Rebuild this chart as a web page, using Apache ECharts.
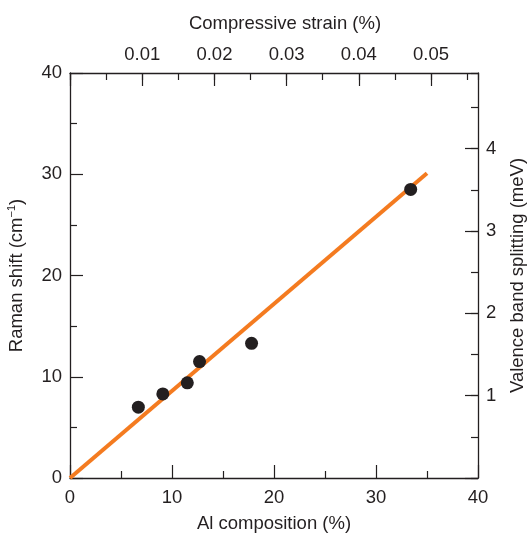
<!DOCTYPE html>
<html><head><meta charset="utf-8">
<script src="https://cdn.jsdelivr.net/npm/echarts@6/dist/echarts.min.js"></script>
<style>html,body{margin:0;padding:0;background:#fff}#c{width:528px;height:535px}</style>
</head><body><div id="c"></div>
<script>
// Data
const alComposition = [6.7, 9.1, 11.5, 12.7, 17.8, 33.4];
const ramanShift   = [7.0, 8.3, 9.4, 11.5, 13.3, 28.5];
const fitX = [0, 35];
const fitY = [0, 30.1];
const strainTicks = [0.01, 0.02, 0.03, 0.04, 0.05];
const splittingTicks = [1, 2, 3, 4];

const INK = '#231f20';
const FONT = "'Liberation Sans', Arial, Helvetica, sans-serif";
const FS = 18.5;
const line = {show: true, onZero: false, lineStyle: {color: INK, width: 1.3}};
const noLine = {show: false, onZero: false};
const tickStyle = {color: INK, width: 1.2};
const lbl = {fontSize: FS, color: INK, fontFamily: FONT};

function near(v, list) { return list.some(t => Math.abs(t - v) < 1e-9); }

const chart = echarts.init(document.getElementById('c'), null, {renderer: 'canvas'});
chart.setOption({
  animation: false,
  backgroundColor: '#fff',
  grid: {left: 70, right: 50, top: 73, bottom: 57, containLabel: false, outerBoundsMode: 'none'},
  xAxis: [
    {
      type: 'value', position: 'bottom', min: 0, max: 40, interval: 10,
      axisLine: line,
      axisTick: {show: true, inside: true, length: 13, lineStyle: tickStyle},
      minorTick: {show: true, splitNumber: 2, length: 7, lineStyle: tickStyle},
      splitLine: {show: false},
      axisLabel: Object.assign({margin: 10}, lbl),
      name: 'Al composition (%)', nameLocation: 'middle', nameGap: 36,
      nameTextStyle: lbl
    },
    {
      type: 'value', position: 'top', min: 0, max: 0.0565, interval: 0.01,
      axisLine: line,
      axisTick: {show: true, inside: true, length: 13, lineStyle: tickStyle},
      splitLine: {show: false},
      axisLabel: Object.assign({margin: 9, showMaxLabel: false,
        formatter: v => near(v, strainTicks) ? v.toFixed(2) : ''}, lbl),
      name: 'Compressive strain (%)', nameLocation: 'middle', nameGap: 40,
      nameTextStyle: Object.assign({padding: [0, 0, 0, 22]}, lbl)
    },
    {
      type: 'value', position: 'top', min: 0, max: 0.0565, interval: 0.005,
      axisLine: noLine,
      axisTick: {show: true, inside: true, length: 7, lineStyle: tickStyle},
      splitLine: {show: false},
      axisLabel: {show: false}
    }
  ],
  yAxis: [
    {
      type: 'value', position: 'left', min: 0, max: 40, interval: 10,
      axisLine: line,
      axisTick: {show: true, inside: true, length: 13, lineStyle: tickStyle},
      minorTick: {show: true, splitNumber: 2, length: 7, lineStyle: tickStyle},
      splitLine: {show: false},
      axisLabel: Object.assign({margin: 8}, lbl),
      name: 'Raman shift (cm{s|\u22121})', nameLocation: 'middle', nameRotate: 90, nameGap: 42,
      nameTextStyle: Object.assign({lineHeight: 22, rich: {
        s: {fontSize: 11, fontFamily: FONT, color: INK, verticalAlign: 'top', lineHeight: 12}
      }}, lbl)
    },
    {
      type: 'value', position: 'right', min: 0, max: 4.92, interval: 1,
      axisLine: line,
      axisTick: {show: true, inside: true, length: 13, lineStyle: tickStyle},
      splitLine: {show: false},
      axisLabel: Object.assign({margin: 8, showMaxLabel: false,
        formatter: v => near(v, splittingTicks) ? String(v) : ''}, lbl),
      name: 'Valence band splitting (meV)', nameLocation: 'middle', nameRotate: 90, nameGap: 30,
      nameTextStyle: lbl
    },
    {
      type: 'value', position: 'right', min: 0, max: 4.92, interval: 0.5,
      axisLine: noLine,
      axisTick: {show: true, inside: true, length: 7, lineStyle: tickStyle},
      splitLine: {show: false},
      axisLabel: {show: false}
    }
  ],
  series: [
    {
      type: 'line', xAxisIndex: 0, yAxisIndex: 0,
      data: fitX.map((x, i) => [x, fitY[i]]),
      showSymbol: false, symbol: 'none', clip: false,
      lineStyle: {color: '#F47B20', width: 4, cap: 'butt'},
      z: 2
    },
    {
      type: 'scatter', xAxisIndex: 0, yAxisIndex: 0,
      data: alComposition.map((x, i) => [x, ramanShift[i]]),
      symbol: 'circle', symbolSize: 13,
      itemStyle: {color: INK, opacity: 1},
      z: 3
    }
  ]
});
</script>
</body></html>
